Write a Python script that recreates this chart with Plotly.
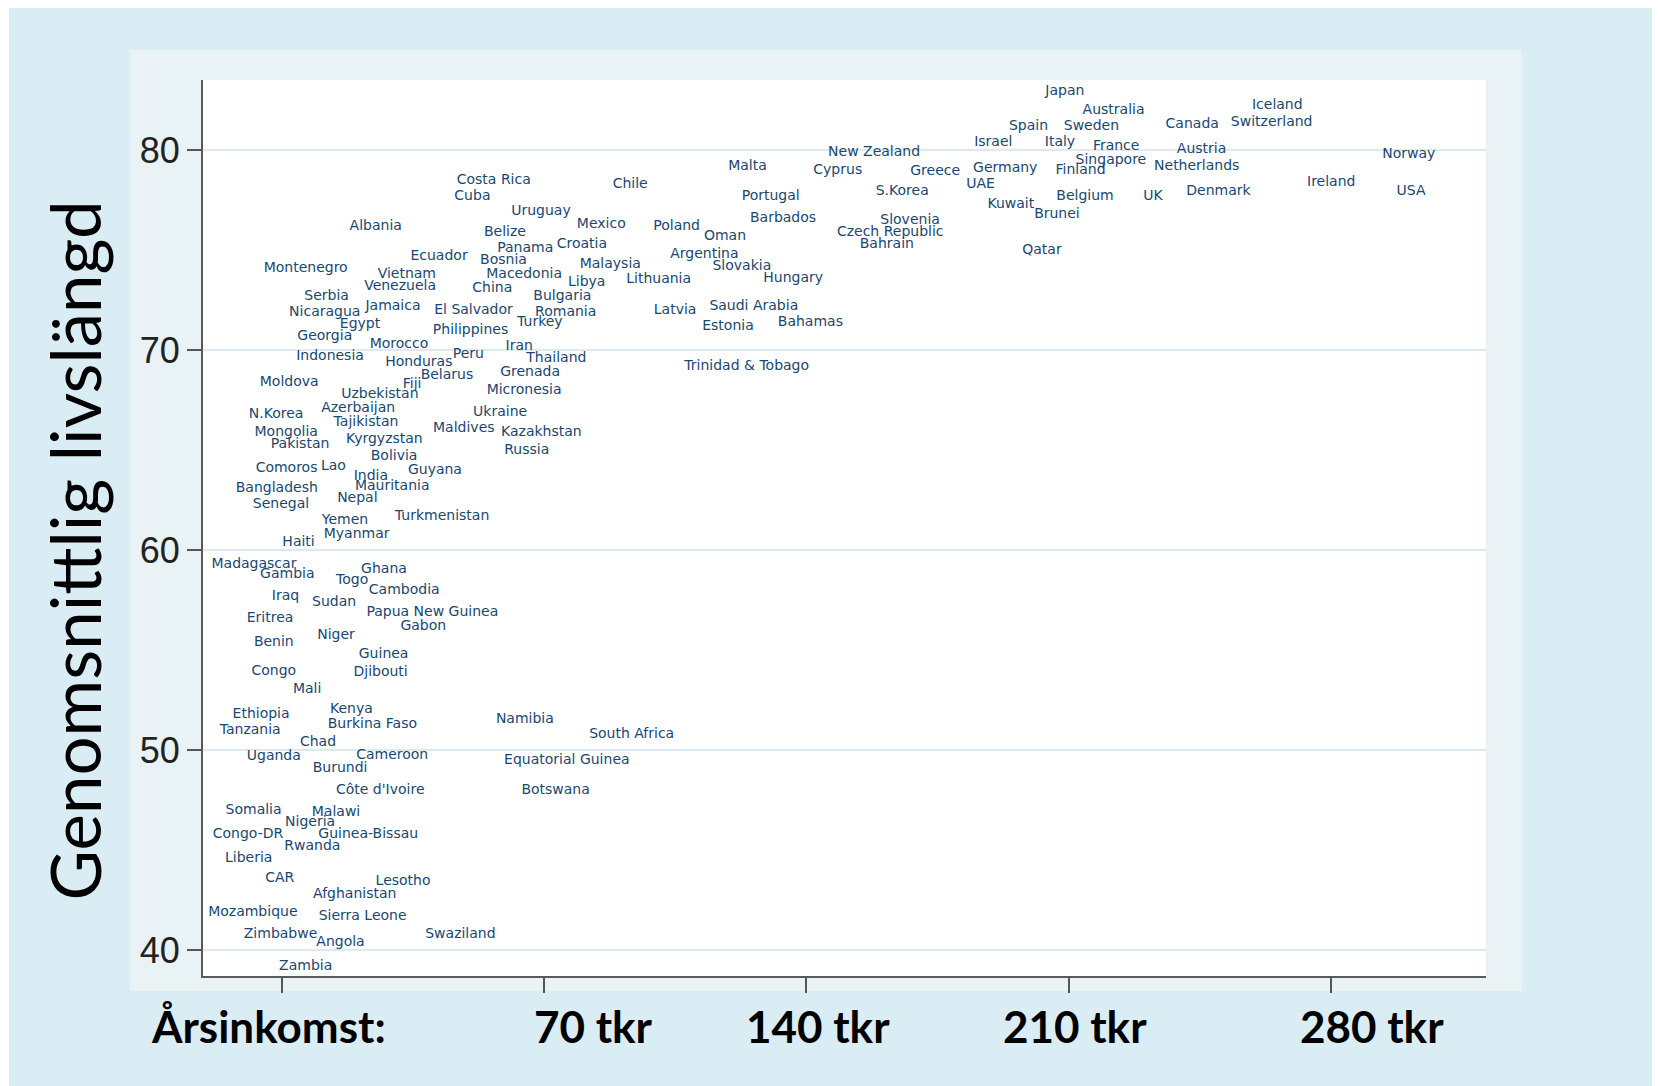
"""life expectancy vs yearly income, one label per country"""

import plotly.graph_objects as go

countries = [
    "Japan", "Australia", "Iceland", "Spain", "Sweden", "Canada", "Switzerland",
    "Israel", "Italy", "France", "Austria", "Singapore", "New Zealand", "Malta",
    "Cyprus", "Greece", "Germany", "Finland", "Netherlands", "Norway", "UAE",
    "Portugal", "S.Korea", "Kuwait", "Belgium", "UK", "Denmark", "Ireland", "USA",
    "Brunei", "Barbados", "Slovenia", "Czech Republic", "Bahrain", "Qatar",
    "Costa Rica", "Cuba", "Chile", "Uruguay", "Albania", "Belize", "Mexico",
    "Poland", "Oman", "Panama", "Croatia", "Ecuador", "Bosnia", "Malaysia",
    "Argentina", "Slovakia", "Montenegro", "Vietnam", "Macedonia", "Libya",
    "Lithuania", "Hungary", "Venezuela", "China", "Serbia", "Bulgaria",
    "Nicaragua", "Jamaica", "El Salvador", "Romania", "Latvia", "Saudi Arabia",
    "Egypt", "Turkey", "Estonia", "Bahamas", "Georgia", "Philippines", "Morocco",
    "Iran", "Peru", "Indonesia", "Honduras", "Thailand", "Trinidad & Tobago",
    "Belarus", "Grenada", "Moldova", "Fiji", "Uzbekistan", "Micronesia",
    "N.Korea", "Azerbaijan", "Ukraine", "Tajikistan", "Mongolia", "Maldives",
    "Kazakhstan", "Pakistan", "Kyrgyzstan", "Russia", "Bolivia", "Comoros", "Lao",
    "India", "Guyana", "Bangladesh", "Mauritania", "Nepal", "Senegal", "Yemen",
    "Turkmenistan", "Haiti", "Myanmar", "Madagascar", "Ghana", "Gambia", "Togo",
    "Cambodia", "Iraq", "Sudan", "Papua New Guinea", "Eritrea", "Gabon", "Benin",
    "Niger", "Guinea", "Congo", "Djibouti", "Mali", "Ethiopia", "Kenya",
    "Burkina Faso", "Namibia", "Tanzania", "Chad", "South Africa", "Uganda",
    "Cameroon", "Burundi", "Equatorial Guinea", "Côte d'Ivoire", "Botswana",
    "Somalia", "Malawi", "Nigeria", "Congo-DR", "Guinea-Bissau", "Rwanda",
    "Liberia", "CAR", "Lesotho", "Afghanistan", "Mozambique", "Sierra Leone",
    "Zimbabwe", "Angola", "Swaziland", "Zambia",
]

# yearly income, tkr
income = [
    209.0, 222.0, 265.7, 199.3, 216.1, 243.0, 264.2,
    189.9, 207.7, 222.7, 245.5, 221.3, 158.1, 124.3,
    148.4, 174.4, 193.1, 213.2, 244.2, 300.8, 186.5,
    130.5, 165.6, 194.6, 214.4, 232.5, 250.0, 280.1, 301.4,
    206.9, 133.8, 167.7, 162.4, 161.5, 202.9,
    56.6, 50.9, 93.0, 69.2, 25.1, 59.6, 85.3,
    105.4, 118.3, 65.0, 80.1, 42.0, 59.2, 87.7,
    112.8, 122.8, 6.4, 33.4, 64.7, 81.4,
    100.6, 136.5, 31.6, 56.2, 12.0, 74.9,
    11.5, 29.7, 51.2, 75.8, 105.0, 126.0,
    20.9, 68.9, 119.1, 141.1, 11.5, 50.4, 31.3,
    63.4, 49.8, 12.9, 36.6, 73.3, 124.1,
    44.1, 66.3, 2.0, 34.8, 26.2, 64.7,
    -1.5, 20.4, 58.3, 22.5, 1.2, 48.6,
    69.3, 4.9, 27.4, 65.4, 30.0, 1.3, 13.8,
    23.8, 40.9, -1.3, 29.5, 20.2, -0.2, 16.9,
    42.8, 4.5, 20.0, -7.4, 27.3, 1.5, 18.8,
    32.7, 1.0, 14.0, 40.2, -3.1, 37.8, -2.1,
    14.5, 27.2, -2.1, 26.4, 6.8, -5.5, 18.6,
    24.2, 64.9, -8.4, 9.7, 93.4, -2.1,
    29.5, 15.6, 76.1, 26.3, 73.1,
    -7.5, 14.5, 7.6, -9.0, 23.1, 8.2,
    -8.8, -0.5, 32.4, 19.5, -7.7, 21.6,
    -0.3, 15.7, 47.7, 6.4,
]

# life expectancy, years
life = [
    82.95, 82.0, 82.25, 81.2, 81.2, 81.3, 81.4,
    80.4, 80.4, 80.2, 80.05, 79.5, 79.9, 79.2,
    79.0, 78.95, 79.1, 79.0, 79.2, 79.8, 78.3,
    77.7, 77.95, 77.3, 77.7, 77.7, 77.95, 78.4, 77.95,
    76.8, 76.6, 76.5, 75.9, 75.3, 75.0,
    78.5, 77.7, 78.3, 76.95, 76.2, 75.9, 76.3,
    76.2, 75.7, 75.1, 75.3, 74.7, 74.5, 74.3,
    74.8, 74.2, 74.1, 73.8, 73.8, 73.4,
    73.55, 73.6, 73.2, 73.1, 72.7, 72.7,
    71.9, 72.2, 72.0, 71.9, 72.0, 72.2,
    71.3, 71.4, 71.2, 71.4, 70.7, 71.0, 70.3,
    70.2, 69.8, 69.7, 69.4, 69.6, 69.2,
    68.75, 68.9, 68.4, 68.3, 67.8, 68.0,
    66.8, 67.1, 66.9, 66.4, 65.9, 66.1,
    65.9, 65.3, 65.55, 65.0, 64.7, 64.1, 64.2,
    63.7, 64.0, 63.1, 63.2, 62.6, 62.3, 61.5,
    61.7, 60.4, 60.8, 59.3, 59.05, 58.8, 58.5,
    58.0, 57.7, 57.4, 56.9, 56.6, 56.2, 55.4,
    55.75, 54.8, 53.95, 53.9, 53.05, 51.8, 52.05,
    51.3, 51.55, 51.0, 50.4, 50.8, 49.7,
    49.75, 49.1, 49.5, 48.0, 48.0,
    47.0, 46.9, 46.4, 45.8, 45.8, 45.2,
    44.6, 43.6, 43.45, 42.8, 41.9, 41.7,
    40.8, 40.4, 40.8, 39.2,
]

y_ticks = [40, 50, 60, 70, 80]
x_ticks = [0, 70, 140, 210, 280]
x_labels = ["Årsinkomst:", "70 tkr", "140 tkr", "210 tkr", "280 tkr"]
y_title = "Genomsnittlig livslängd"


fig = go.Figure()

fig.add_trace(go.Scatter(
    x=income,
    y=life,
    mode='text',
    text=countries,
    textposition='middle center',
    textfont=dict(family='DejaVu Sans', size=14, color='#1a476f'),
    hoverinfo='text',
    cliponaxis=False,
    showlegend=False,
))

fig.update_xaxes(
    range=[-21.0, 321.4],
    tickvals=x_ticks,
    showticklabels=False,
    ticks='outside',
    ticklen=15,
    tickwidth=2,
    tickcolor='#555555',
    showgrid=False,
    zeroline=False,
    showline=True,
    linecolor='#5a5a5a',
    linewidth=2,
)

fig.update_yaxes(
    range=[38.7, 83.5],
    tickvals=y_ticks,
    ticks='outside',
    ticklen=14,
    tickwidth=2,
    tickcolor='#555555',
    tickfont=dict(family='Liberation Sans', size=36, color='#222222'),
    showgrid=True,
    gridcolor='#e0eaee',
    gridwidth=2,
    zeroline=False,
    showline=True,
    linecolor='#5a5a5a',
    linewidth=2,
)

# page body has an 8px margin, so the figure is 8px smaller than the window
# backgrounds: light blue slide, pale panel, white plot area
fig.update_layout(
    width=1652,
    height=1078,
    margin=dict(l=195, r=174, t=72, b=110),
    paper_bgcolor='white',
    plot_bgcolor='rgba(0,0,0,0)',
    shapes=[
        dict(type='rect', xref='paper', yref='paper', layer='below',
             x0=-0.1512, x1=1.1302, y0=-0.1228, y1=1.0837,
             fillcolor='#dbedf4', line=dict(width=0)),
        dict(type='rect', xref='paper', yref='paper', layer='below',
             x0=-0.0569, x1=1.0281, y0=-0.0167, y1=1.0335,
             fillcolor='#e9f2f5', line=dict(width=0)),
        dict(type='rect', xref='paper', yref='paper', layer='below',
             x0=0, x1=1, y0=0, y1=1,
             fillcolor='white', line=dict(width=0)),
    ],
)

fig.add_annotation(
    text=y_title,
    xref='paper', yref='paper',
    x=-0.1005, y=0.475,
    xanchor='center', yanchor='middle',
    textangle=-90,
    showarrow=False,
    font=dict(family='Lato', size=69, color='black'),
)

label_x = [0.0507, 0.304, 0.4793, 0.6797, 0.9111]
for lab, px in zip(x_labels, label_x):
    fig.add_annotation(
        text='<b>' + lab + '</b>',
        xref='paper', yref='paper',
        x=px, y=-0.0563,
        xanchor='center', yanchor='middle',
        showarrow=False,
        font=dict(family='Lato', size=44, color='black'),
    )

fig.write_html("out.html")
